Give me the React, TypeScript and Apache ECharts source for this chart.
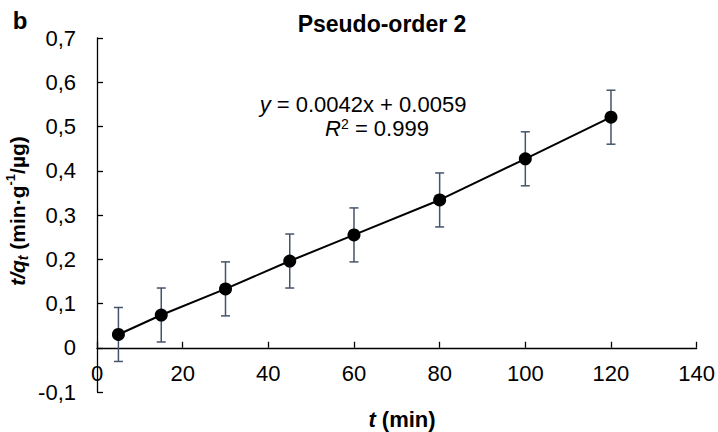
import React, { useEffect, useRef } from "react";
import * as echarts from "echarts";

const timeMin = [5, 15, 30, 45, 60, 80, 100, 120];
const tOverQ = [0.03, 0.074, 0.133, 0.196, 0.255, 0.334, 0.427, 0.521];
const errors = [0.061, 0.061, 0.061, 0.061, 0.061, 0.061, 0.061, 0.061];
const yTickLabels = ["-0,1", "0", "0,1", "0,2", "0,3", "0,4", "0,5", "0,6", "0,7"];
const xTickLabels = ["0", "20", "40", "60", "80", "100", "120", "140"];

const FF = "Liberation Sans, Arial, sans-serif";
const ERR_COLOR = "#44546A";
const Y_MIN = -0.1;
const Y_MAX = 0.7;
const GRID_TOP = 38;
const GRID_BOTTOM = 40;
const H = 432;

function tok(size: number, weight: string, style: string, extra: any = {}) {
  return { fontSize: size, fontWeight: weight, fontStyle: style, fontFamily: FF, fill: "#000", color: "#000", ...extra };
}

export default function App() {
  const ref = useRef<HTMLDivElement>(null);
  useEffect(() => {
    document.body.style.margin = "0";
    const chart = echarts.init(ref.current!, null, { renderer: "svg" });
    const pts = timeMin.map((x, i) => [x, tOverQ[i]]);
    const errData = timeMin.map((x, i) => [x, tOverQ[i] - errors[i], tOverQ[i] + errors[i]]);
    const plotH = H - GRID_TOP - GRID_BOTTOM;
    const zeroOffset = -((0 - Y_MIN) / (Y_MAX - Y_MIN)) * plotH;
    chart.setOption({
      animation: false,
      grid: { left: 97, right: 21, top: GRID_TOP, bottom: GRID_BOTTOM, containLabel: false },
      xAxis: {
        type: "value",
        min: 0,
        max: 140,
        interval: 20,
        offset: zeroOffset,
        splitLine: { show: false },
        axisLine: { onZero: false, lineStyle: { color: "#000", width: 1.3 } },
        axisTick: { inside: true, length: 6, lineStyle: { color: "#000", width: 1.3 } },
        axisLabel: {
          margin: 15,
          fontSize: 22,
          fontFamily: FF,
          color: "#000",
          formatter: (v: number) => xTickLabels[Math.round(v / 20)] ?? "",
        },
      },
      yAxis: {
        type: "value",
        min: Y_MIN,
        max: Y_MAX,
        interval: 0.1,
        splitLine: { show: false },
        axisLine: { onZero: false, lineStyle: { color: "#000", width: 1.3 } },
        axisTick: { inside: true, length: 6, lineStyle: { color: "#000", width: 1.3 } },
        axisLabel: {
          margin: 21,
          fontSize: 22,
          fontFamily: FF,
          color: "#000",
          formatter: (v: number) => yTickLabels[Math.round(v * 10) + 1] ?? "",
        },
      },
      series: [
        {
          type: "custom",
          z: 1,
          data: errData,
          renderItem: (params: any, api: any) => {
            const x = api.value(0);
            const top = api.coord([x, api.value(2)]);
            const bot = api.coord([x, api.value(1)]);
            const w = 4.5;
            const st = { stroke: ERR_COLOR, lineWidth: 1.5 };
            return {
              type: "group",
              children: [
                { type: "line", shape: { x1: top[0], y1: top[1], x2: bot[0], y2: bot[1] }, style: st },
                { type: "line", shape: { x1: top[0] - w, y1: top[1], x2: top[0] + w, y2: top[1] }, style: st },
                { type: "line", shape: { x1: bot[0] - w, y1: bot[1], x2: bot[0] + w, y2: bot[1] }, style: st },
              ],
            };
          },
        },
        {
          type: "line",
          z: 2,
          data: pts,
          symbol: "none",
          lineStyle: { color: "#000", width: 2 },
        },
        {
          type: "scatter",
          z: 3,
          data: pts,
          symbolSize: 13,
          itemStyle: { color: "#000", opacity: 1 },
        },
      ],
      graphic: [
        {
          type: "text",
          x: 20,
          y: 20.5,
          style: { text: "b", font: `bold 24px ${FF}`, fill: "#000", align: "center", verticalAlign: "middle" },
        },
        {
          type: "text",
          x: 382,
          y: 23.5,
          style: { text: "Pseudo-order 2", font: `bold 23px ${FF}`, fill: "#000", align: "center", verticalAlign: "middle" },
        },
        {
          type: "text",
          x: 363,
          y: 104,
          style: {
            text: "{i|y}{n| = 0.0042x + 0.0059}",
            align: "center",
            verticalAlign: "middle",
            rich: {
              i: tok(22, "normal", "italic", { lineHeight: 22 }),
              n: tok(22, "normal", "normal", { lineHeight: 22 }),
            },
          },
        },
        {
          type: "text",
          x: 377,
          y: 128,
          style: {
            text: "{i|R}{s|2}{n| = 0.999}",
            align: "center",
            verticalAlign: "middle",
            rich: {
              i: tok(22, "normal", "italic", { lineHeight: 22 }),
              s: tok(14, "normal", "normal", { lineHeight: 14, verticalAlign: "top" }),
              n: tok(22, "normal", "normal", { lineHeight: 22 }),
            },
          },
        },
        {
          type: "text",
          x: 402,
          y: 419,
          style: {
            text: "{i|t}{n| (min)}",
            align: "center",
            verticalAlign: "middle",
            rich: {
              i: tok(22, "bold", "italic", { lineHeight: 26 }),
              n: tok(22, "bold", "normal", { lineHeight: 26 }),
            },
          },
        },
        {
          type: "text",
          x: 17,
          y: 211,
          rotation: Math.PI / 2,
          style: {
            text: "{i|t/q}{b|t}{n| (min·g}{s|-1}{n|/µg)}",
            align: "center",
            verticalAlign: "middle",
            rich: {
              i: tok(21, "bold", "italic", { lineHeight: 26 }),
              b: tok(14, "bold", "italic", { lineHeight: 14, verticalAlign: "bottom" }),
              n: tok(21, "bold", "normal", { lineHeight: 26 }),
              s: tok(13, "bold", "normal", { lineHeight: 13, verticalAlign: "top" }),
            },
          },
        },
      ],
    });
    return () => chart.dispose();
  }, []);
  return <div ref={ref} style={{ width: 718, height: 432 }} />;
}
